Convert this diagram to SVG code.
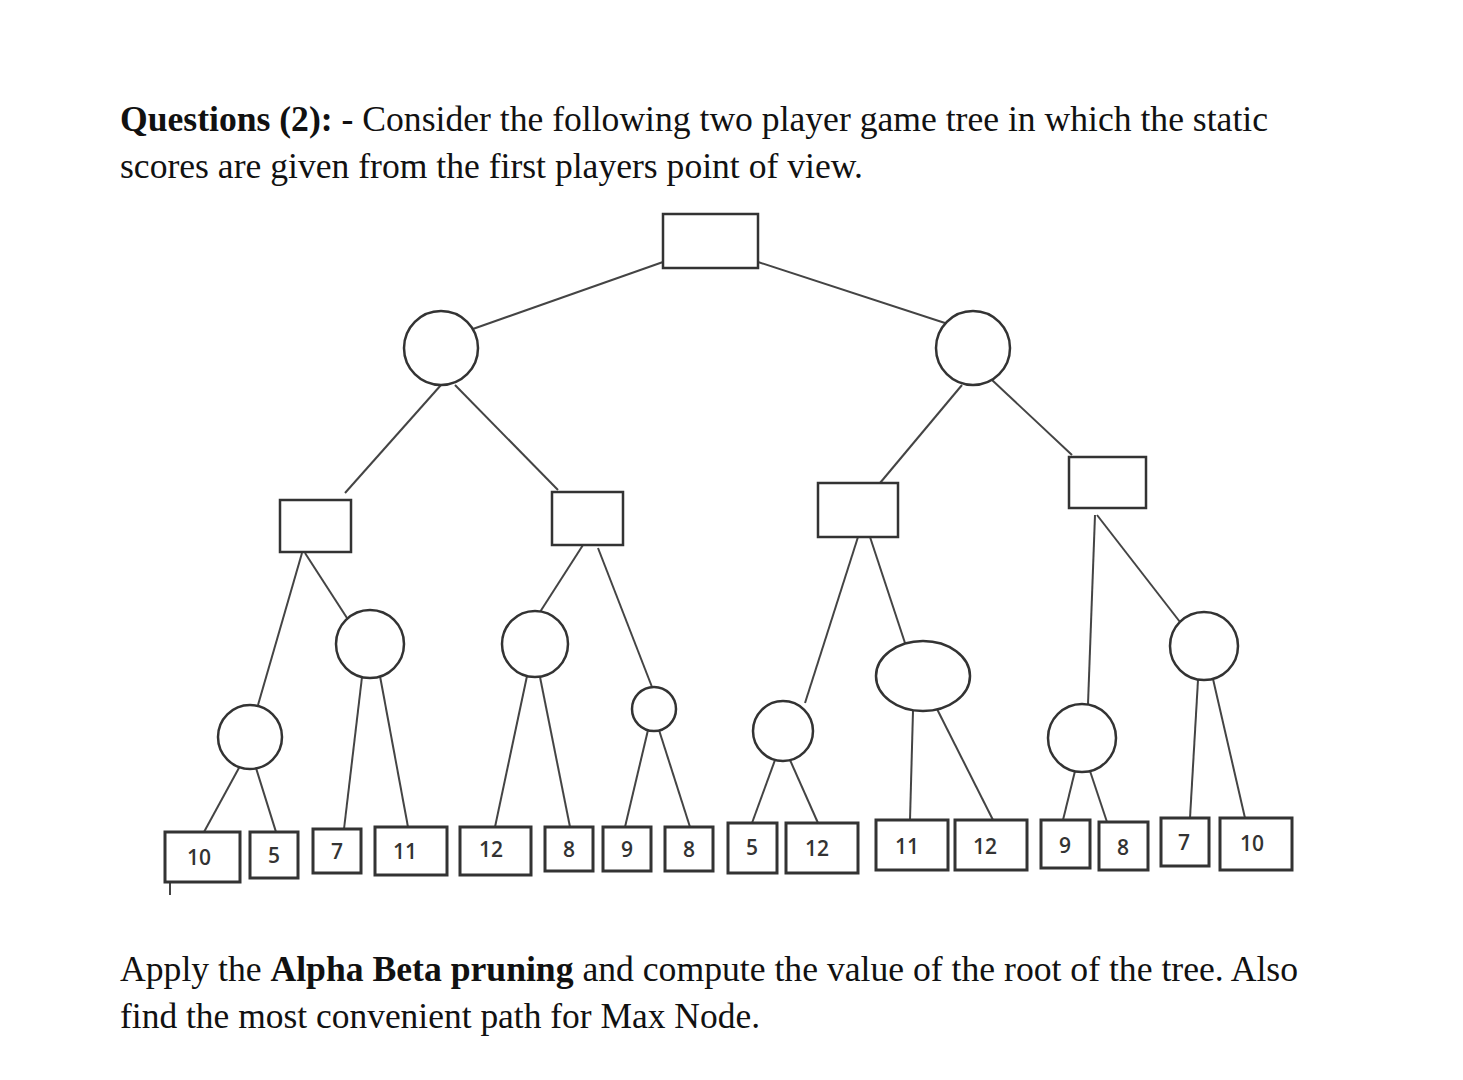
<svg xmlns="http://www.w3.org/2000/svg" width="1463" height="1080" viewBox="0 0 1463 1080">
<style>
.t{font-family:"Liberation Serif","Times New Roman",serif;font-size:35px;fill:#111}
.n{fill:#fff;stroke:#333;stroke-width:2.5}
.l{fill:#fff;stroke:#333;stroke-width:3}
.v{font-family:"Open Sans","DejaVu Sans",sans-serif;font-size:21px;font-weight:600;fill:#333;text-anchor:middle}
.e{stroke:#444;stroke-width:2;fill:none}
</style>
<rect width="1463" height="1080" fill="#fff"/>
<text class="t" x="120" y="131" textLength="1148" lengthAdjust="spacingAndGlyphs"><tspan font-weight="bold">Questions (2): - </tspan>Consider the following two player game tree in which the static</text>
<text class="t" x="120" y="178" textLength="743" lengthAdjust="spacingAndGlyphs">scores are given from the first players point of view.</text>
<text class="t" x="120" y="981" textLength="1178" lengthAdjust="spacingAndGlyphs">Apply the <tspan font-weight="bold">Alpha Beta pruning</tspan> and compute the value of the root of the tree. Also</text>
<text class="t" x="120" y="1028" textLength="640" lengthAdjust="spacingAndGlyphs">find the most convenient path for Max Node.</text>
<g id="connectors" class="e">
<line x1="663" y1="262" x2="470" y2="330"/><line x1="758" y1="262" x2="945" y2="323"/>
<line x1="441" y1="385" x2="345" y2="493"/><line x1="455" y1="385" x2="558" y2="490"/>
<line x1="962" y1="385" x2="880" y2="483"/><line x1="992" y1="380" x2="1072" y2="455"/>
<line x1="302" y1="553" x2="258" y2="705"/><line x1="305" y1="553" x2="347" y2="618"/>
<line x1="583" y1="545" x2="540" y2="612"/><line x1="598" y1="548" x2="652" y2="687"/>
<line x1="858" y1="537" x2="805" y2="703"/><line x1="870" y1="537" x2="905" y2="643"/>
<line x1="1095" y1="515" x2="1088" y2="704"/><line x1="1097" y1="515" x2="1180" y2="622"/>
<line x1="240" y1="766" x2="204" y2="832"/><line x1="256" y1="768" x2="276" y2="832"/>
<line x1="362" y1="677" x2="344" y2="829"/><line x1="380" y1="676" x2="408" y2="827"/>
<line x1="527" y1="676" x2="495" y2="827"/><line x1="540" y1="677" x2="570" y2="827"/>
<line x1="648" y1="730" x2="625" y2="827"/><line x1="659" y1="730" x2="690" y2="827"/>
<line x1="775" y1="760" x2="752" y2="823"/><line x1="790" y1="760" x2="818" y2="823"/>
<line x1="913" y1="711" x2="910" y2="820"/><line x1="937" y1="709" x2="993" y2="820"/>
<line x1="1075" y1="771" x2="1063" y2="820"/><line x1="1090" y1="771" x2="1107" y2="822"/>
<line x1="1198" y1="680" x2="1190" y2="818"/><line x1="1213" y1="679" x2="1245" y2="818"/>
<line x1="170" y1="882" x2="170" y2="895"/>
</g>
<g id="root"><rect class="n" x="663" y="214" width="95" height="54"/></g>
<g id="L"><circle class="n" cx="441" cy="348" r="37"/></g>
<g id="R"><circle class="n" cx="973" cy="348" r="37"/></g>
<g id="A"><rect class="n" x="280" y="500" width="71" height="52"/></g>
<g id="B"><rect class="n" x="552" y="492" width="71" height="53"/></g>
<g id="C"><rect class="n" x="818" y="483" width="80" height="54"/></g>
<g id="D"><rect class="n" x="1069" y="457" width="77" height="51"/></g>
<g id="A1"><circle class="n" cx="250" cy="737" r="32"/></g>
<g id="A2"><circle class="n" cx="370" cy="644" r="34"/></g>
<g id="B1"><circle class="n" cx="535" cy="644" r="33"/></g>
<g id="B2"><circle class="n" cx="654" cy="709" r="22"/></g>
<g id="C1"><circle class="n" cx="783" cy="731" r="30"/></g>
<g id="C2"><ellipse class="n" cx="923" cy="676" rx="47" ry="35"/></g>
<g id="D1"><circle class="n" cx="1082" cy="738" r="34"/></g>
<g id="D2"><circle class="n" cx="1204" cy="646" r="34"/></g>
<g id="leaf1"><rect class="l" x="165" y="832" width="75" height="50"/><text class="v" x="199" y="865">10</text></g>
<g id="leaf2"><rect class="l" x="250" y="832" width="48" height="46"/><text class="v" x="274" y="863">5</text></g>
<g id="leaf3"><rect class="l" x="313" y="829" width="48" height="44"/><text class="v" x="337" y="859">7</text></g>
<g id="leaf4"><rect class="l" x="375" y="827" width="72" height="48"/><text class="v" x="405" y="859">11</text></g>
<g id="leaf5"><rect class="l" x="460" y="827" width="71" height="48"/><text class="v" x="491" y="857">12</text></g>
<g id="leaf6"><rect class="l" x="545" y="827" width="48" height="44"/><text class="v" x="569" y="857">8</text></g>
<g id="leaf7"><rect class="l" x="603" y="827" width="48" height="44"/><text class="v" x="627" y="857">9</text></g>
<g id="leaf8"><rect class="l" x="665" y="827" width="48" height="44"/><text class="v" x="689" y="857">8</text></g>
<g id="leaf9"><rect class="l" x="728" y="823" width="49" height="50"/><text class="v" x="752" y="855">5</text></g>
<g id="leaf10"><rect class="l" x="786" y="823" width="72" height="50"/><text class="v" x="817" y="856">12</text></g>
<g id="leaf11"><rect class="l" x="876" y="820" width="72" height="50"/><text class="v" x="907" y="854">11</text></g>
<g id="leaf12"><rect class="l" x="955" y="820" width="72" height="50"/><text class="v" x="985" y="854">12</text></g>
<g id="leaf13"><rect class="l" x="1041" y="820" width="49" height="48"/><text class="v" x="1065" y="853">9</text></g>
<g id="leaf14"><rect class="l" x="1099" y="822" width="49" height="48"/><text class="v" x="1123" y="855">8</text></g>
<g id="leaf15"><rect class="l" x="1161" y="818" width="48" height="48"/><text class="v" x="1184" y="850">7</text></g>
<g id="leaf16"><rect class="l" x="1220" y="818" width="72" height="52"/><text class="v" x="1252" y="851">10</text></g>
</svg>
